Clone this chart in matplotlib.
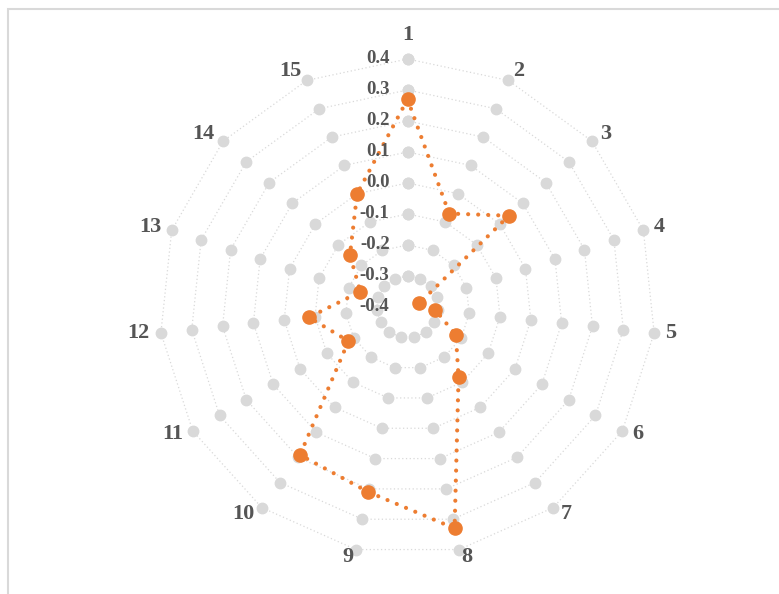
import matplotlib
matplotlib.use('Agg')
import matplotlib.pyplot as plt
import numpy as np

# Dane
categories = [str(i) for i in range(1, 16)]
values = [0.27, -0.07, 0.04, -0.36, -0.31, -0.22, -0.12, 0.33,
          0.21, 0.19, -0.18, -0.08, -0.24, -0.15, 0.0]
ring_levels = [0.4, 0.3, 0.2, 0.1, 0.0, -0.1, -0.2, -0.3]
tick_labels = ['0.4', '0.3', '0.2', '0.1', '0.0', '-0.1', '-0.2', '-0.3', '-0.4']
tick_values = [0.4, 0.3, 0.2, 0.1, 0.0, -0.1, -0.2, -0.3, -0.4]

orange = '#ED7D31'
grey = '#D9D9D9'
text_col = '#555555'
serif = ['Liberation Serif', 'DejaVu Serif']

n = len(categories)
theta = np.arange(n) * 2 * np.pi / n
theta_c = np.append(theta, theta[0])

fig = plt.figure(figsize=(7.79, 5.94), dpi=100)
# ramka wokół wykresu
fig.patches.append(plt.Rectangle((8 / 779, -0.01), 1.1, 1 - 9 / 594 + 0.01,
                                 transform=fig.transFigure, fill=False,
                                 edgecolor=grey, linewidth=1.5))

ax = fig.add_axes([0.2048, 0.0657, 0.6367, 0.835], polar=True)
ax.set_theta_zero_location('N')
ax.set_theta_direction(-1)
ax.set_ylim(-0.4, 0.4)
ax.grid(False)
ax.spines['polar'].set_visible(False)
ax.set_xticks([])
ax.set_yticks([])
ax.patch.set_alpha(0)

# pierścienie siatki z kropkami
for lv in ring_levels:
    ax.plot(theta_c, [lv] * (n + 1), color=grey, linewidth=0.9,
            linestyle=(0, (1, 2)), marker='o', markersize=7.5,
            markerfacecolor=grey, markeredgecolor=grey, zorder=2,
            clip_on=False)

# seria danych
vals_c = values + [values[0]]
ax.plot(theta_c, vals_c, color=orange, linewidth=3,
        linestyle=(0, (0.01, 2.4)), dash_capstyle='round', zorder=3,
        clip_on=False)
ax.plot(theta, values, linestyle='none', marker='o', markersize=9.5,
        color=orange, zorder=4, clip_on=False)

# etykiety osi wartości
for v, lab in zip(tick_values, tick_labels):
    ax.annotate(lab, xy=(0, v), xytext=(-18, 0), textcoords='offset pixels',
                ha='right', va='center', fontsize=13.5, fontweight='bold',
                color=text_col, family=serif)

# etykiety kategorii
for t, lab in zip(theta, categories):
    s, c = np.sin(t), np.cos(t)
    if abs(s) < 0.05:
        ha, dx, dy = 'center', 0, 24
    else:
        ha = 'left' if s > 0 else 'right'
        dx = np.sign(s) * (16 * np.sqrt(abs(s)) - 5)
        dy = 9 * c + 1
    ax.annotate(lab, xy=(t, 0.4), xytext=(dx, dy),
                textcoords='offset pixels', ha=ha, va='center',
                fontsize=16, fontweight='bold', color=text_col,
                family=serif, annotation_clip=False)

fig.savefig('out.png', dpi=100)
